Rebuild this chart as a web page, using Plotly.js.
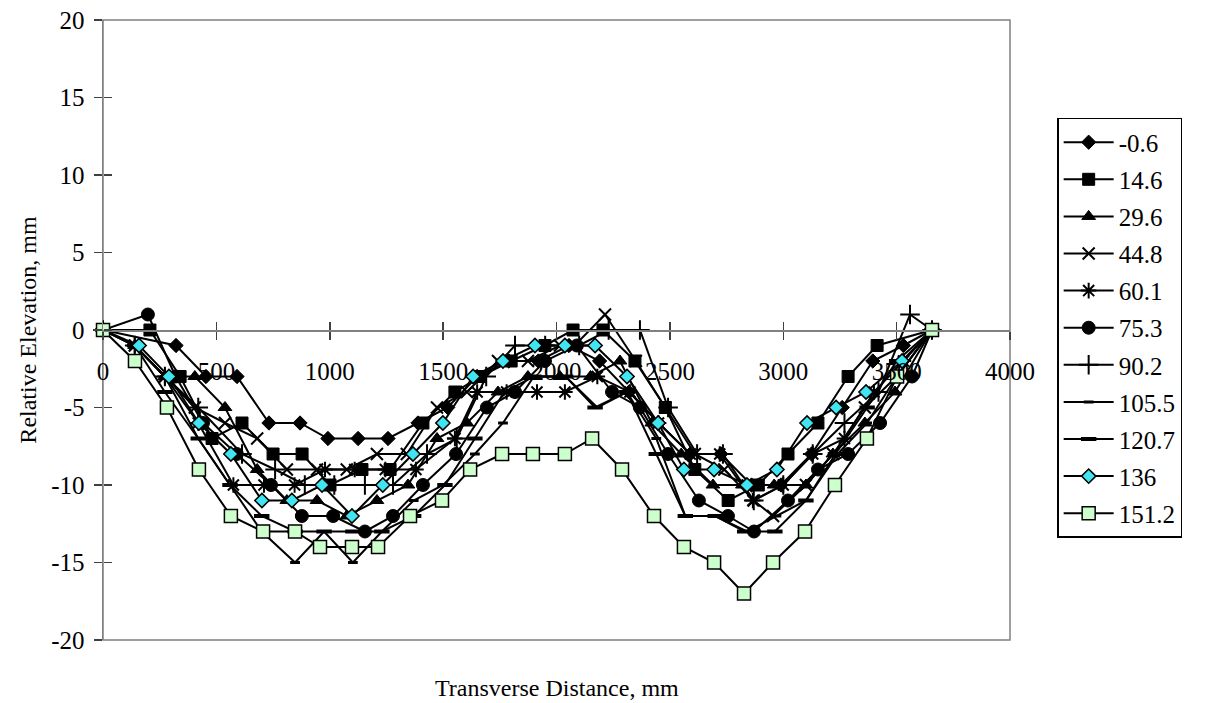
<!DOCTYPE html>
<html>
<head>
<meta charset="utf-8">
<script src="https://cdn.plot.ly/plotly-3.0.1.min.js"></script>
<style>html,body{margin:0;padding:0;background:#fff;}#chart{width:1208px;height:703px;}</style>
</head>
<body>
<div id="chart"></div>
<script>
// Series names (legend)
const seriesNames = ["-0.6", "14.6", "29.6", "44.8", "60.1", "75.3", "90.2", "105.5", "120.7", "136", "151.2"];

// Values (x: transverse distance mm, y: relative elevation mm)
const xS00 = [0, 322, 454, 591, 732, 869, 992, 1125, 1257, 1389, 1520, 1650, 1790, 1920, 2055, 2190, 2320, 2450, 2590, 2725, 2860, 2990, 3125, 3260, 3395, 3530, 3656];
const yS00 = [0, -1, -3, -3, -6, -6, -7, -7, -7, -6, -5, -3, -2, -2, -1, -2, -4, -6, -8, -8, -10, -10, -8, -5, -2, -1, 0];

const xS01 = [0, 207, 340, 481, 613, 750, 878, 1001, 1142, 1266, 1411, 1552, 1663, 1800, 1949, 2073, 2205, 2346, 2480, 2610, 2757, 2890, 3021, 3153, 3286, 3414, 3656];
const yS01 = [0, 0, -3, -7, -6, -8, -8, -10, -9, -9, -6, -4, -3, -2, -1, 0, 0, -2, -5, -9, -11, -10, -8, -6, -3, -1, 0];

const xS02 = [0, 140, 273, 405, 538, 680, 811, 944, 1075, 1208, 1345, 1473, 1605, 1742, 1874, 2015, 2150, 2280, 2420, 2550, 2690, 2820, 2960, 3100, 3219, 3360, 3493, 3656];
const yS02 = [0, -1, -3, -3, -5, -9, -11, -11, -12, -11, -10, -7, -6, -4, -3, -3, -3, -2, -6, -8, -10, -10, -10, -10, -8, -6, -4, 0];

const xS03 = [0, 140, 273, 405, 538, 680, 811, 944, 1075, 1208, 1340, 1473, 1605, 1742, 1874, 2015, 2080, 2214, 2350, 2480, 2610, 2740, 2870, 2955, 3100, 3220, 3360, 3500, 3656];
const yS03 = [0, -1, -3, -5, -6, -7, -9, -9, -9, -8, -8, -5, -4, -2, -2, -1, -1, 1, -2, -5, -8, -9, -11, -12, -10, -8, -5, -3, 0];

const xS04 = [0, 140, 273, 420, 575, 710, 845, 979, 1110, 1245, 1380, 1552, 1650, 1780, 1914, 2037, 2180, 2324, 2450, 2590, 2720, 2866, 3000, 3130, 3270, 3400, 3530, 3656];
const yS04 = [0, -1, -3, -6, -10, -10, -10, -9, -9, -9, -9, -7, -4, -4, -4, -4, -3, -4, -6, -8, -8, -11, -10, -8, -7, -4, -2, 0];

const xS05 = [0, 198, 320, 441, 590, 741, 877, 1015, 1155, 1279, 1411, 1557, 1693, 1817, 1949, 2090, 2245, 2368, 2492, 2628, 2756, 2871, 3021, 3153, 3286, 3427, 3568, 3656];
const yS05 = [0, 1, -3, -6, -8, -10, -12, -12, -13, -12, -10, -8, -5, -4, -2, -1, -4, -5, -8, -11, -12, -13, -11, -9, -8, -6, -3, 0];

const xS06 = [0, 140, 273, 420, 613, 759, 890, 1020, 1155, 1279, 1429, 1560, 1690, 1817, 1950, 2100, 2230, 2368, 2492, 2620, 2734, 2870, 3000, 3130, 3270, 3420, 3559, 3656];
const yS06 = [0, -1, -3, -5, -8, -9, -10, -10, -10, -10, -8, -7, -3, -1, -1, -1, 0, 0, -5, -8, -8, -11, -10, -8, -6, -4, 1, 0];

const xS07 = [0, 140, 273, 420, 560, 700, 847, 975, 1102, 1230, 1370, 1500, 1640, 1764, 1900, 2040, 2180, 2310, 2440, 2568, 2700, 2840, 2970, 3100, 3240, 3370, 3500, 3656];
const yS07 = [0, -1, -3, -7, -10, -13, -15, -13, -15, -13, -11, -10, -8, -6, -3, -3, -5, -4, -7, -12, -12, -13, -12, -11, -8, -6, -3, 0];

const xS08 = [0, 140, 273, 420, 560, 700, 847, 975, 1102, 1230, 1370, 1508, 1640, 1770, 1900, 2040, 2170, 2310, 2440, 2568, 2700, 2830, 2963, 3100, 3230, 3370, 3500, 3656];
const yS08 = [0, -1, -4, -7, -10, -12, -13, -13, -13, -13, -12, -10, -7, -4, -3, -3, -5, -4, -8, -12, -12, -13, -13, -11, -8, -5, -2, 0];

const xS09 = [0, 159, 291, 423, 564, 701, 833, 966, 1098, 1234, 1367, 1499, 1632, 1764, 1905, 2037, 2170, 2311, 2448, 2562, 2695, 2840, 2972, 3105, 3233, 3365, 3524, 3656];
const yS09 = [0, -1, -3, -6, -8, -11, -11, -10, -12, -10, -8, -6, -3, -2, -1, -1, -1, -3, -6, -9, -9, -10, -9, -6, -5, -4, -2, 0];

const xS10 = [0, 141, 282, 423, 564, 706, 847, 957, 1098, 1213, 1354, 1495, 1619, 1760, 1896, 2037, 2157, 2289, 2430, 2562, 2695, 2827, 2955, 3096, 3228, 3369, 3502, 3656];
const yS10 = [0, -2, -5, -9, -12, -13, -13, -14, -14, -14, -12, -11, -9, -8, -8, -8, -7, -9, -12, -14, -15, -17, -15, -13, -10, -7, -3, 0];

const xTickVals = [0, 500, 1000, 1500, 2000, 2500, 3000, 3500, 4000];
const xTickText = ["0", "500", "1000", "1500", "2000", "2500", "3000", "3500", "4000"];
const yTickVals = [-20, -15, -10, -5, 0, 5, 10, 15, 20];
const yTickText = ["-20", "-15", "-10", "-5", "0", "5", "10", "15", "20"];

const xTitle = "Transverse Distance, mm";
const yTitle = "Relative Elevation, mm";

const xs = [xS00, xS01, xS02, xS03, xS04, xS05, xS06, xS07, xS08, xS09, xS10];
const ys = [yS00, yS01, yS02, yS03, yS04, yS05, yS06, yS07, yS08, yS09, yS10];

const markerStyles = [
  {symbol: "diamond", size: 11, color: "#000", line: {color: "#000", width: 1}},
  {symbol: "square", size: 12, color: "#000", line: {color: "#000", width: 1}},
  {symbol: "triangle-up", size: 12, color: "#000", line: {color: "#000", width: 1}},
  {symbol: "x-thin-open", size: 12, color: "#000", line: {color: "#000", width: 2}},
  {symbol: "asterisk-open", size: 13, color: "#000", line: {color: "#000", width: 2}},
  {symbol: "circle", size: 13, color: "#000", line: {color: "#000", width: 1}},
  {symbol: "cross-thin-open", size: 14, color: "#000", line: {color: "#000", width: 2}},
  {symbol: "line-ew-open", size: 7, color: "#000", line: {color: "#000", width: 3}},
  {symbol: "line-ew-open", size: 11, color: "#000", line: {color: "#000", width: 4}},
  {symbol: "diamond", size: 11, color: "#3FE6F2", line: {color: "#000", width: 1.5}},
  {symbol: "square", size: 13, color: "#CCFFCC", line: {color: "#000", width: 1.5}}
];

const FONT = "'Liberation Serif', 'Times New Roman', serif";

const traces = seriesNames.map((nm, i) => ({
  type: "scatter",
  mode: "lines+markers",
  name: nm,
  legendgroup: "g" + i,
  x: xs[i],
  y: ys[i],
  line: {color: "#000", width: 2},
  marker: markerStyles[i],
  cliponaxis: false
}));

// helper axis pair (only for crossing tick marks)
traces.push({type: "scatter", x: [], y: [], xaxis: "x2", yaxis: "y2", showlegend: false, hoverinfo: "skip"});

const layout = {
  width: 1208,
  height: 703,
  margin: {l: 103, r: 198, t: 20, b: 63, pad: 0},
  paper_bgcolor: "#fff",
  plot_bgcolor: "#fff",
  font: {family: FONT, color: "#000", size: 24},
  showlegend: true,
  xaxis: {
    range: [0, 4000],
    tickvals: xTickVals,
    ticktext: xTickText,
    anchor: "free",
    position: 0.5,
    showgrid: false,
    zeroline: false,
    showline: true,
    linecolor: "#808080",
    linewidth: 1.5,
    ticks: "outside",
    ticklen: 8,
    tickwidth: 1.5,
    tickcolor: "#404040",
    ticklabelstandoff: 10,
    tickfont: {family: FONT, size: 25, color: "#000"}
  },
  yaxis: {
    range: [-20, 20],
    tickvals: yTickVals,
    ticktext: yTickText,
    showgrid: false,
    zeroline: false,
    showline: true,
    linecolor: "#808080",
    linewidth: 1.5,
    ticks: "outside",
    ticklen: 8,
    tickwidth: 1.5,
    tickcolor: "#404040",
    ticklabelstandoff: 4,
    tickfont: {family: FONT, size: 25, color: "#000"},
    title: {text: yTitle, font: {family: FONT, size: 24, color: "#000"}, standoff: 8}
  },
  xaxis2: {
    range: [0, 4000],
    tickvals: xTickVals,
    overlaying: "x",
    anchor: "free",
    position: 0.5,
    showgrid: false,
    zeroline: false,
    showline: false,
    ticks: "inside",
    ticklen: 8,
    tickwidth: 1.5,
    tickcolor: "#404040",
    showticklabels: false
  },
  yaxis2: {
    range: [-20, 20],
    tickvals: yTickVals,
    overlaying: "y",
    anchor: "free",
    position: 0,
    showgrid: false,
    zeroline: false,
    showline: false,
    ticks: "inside",
    ticklen: 8,
    tickwidth: 1.5,
    tickcolor: "#404040",
    showticklabels: false
  },
  shapes: [
    {type: "rect", xref: "paper", yref: "paper", x0: 0, x1: 1, y0: 0, y1: 1, line: {color: "#808080", width: 1.5}, fillcolor: "rgba(0,0,0,0)", layer: "below"}
  ],
  annotations: [
    {text: xTitle, xref: "paper", yref: "paper", x: 0.5, y: -0.078, xanchor: "center", yanchor: "middle", showarrow: false, font: {family: FONT, size: 24, color: "#000"}}
  ],
  legend: {
    x: 1.052,
    y: 0.842,
    xanchor: "left",
    yanchor: "top",
    bgcolor: "#fff",
    bordercolor: "#000",
    borderwidth: 1.5,
    font: {family: FONT, size: 25, color: "#000"},
    tracegroupgap: 1.6,
    itemwidth: 50,
    entrywidth: 88
  }
};

Plotly.newPlot("chart", traces, layout, {displayModeBar: false, staticPlot: true});
</script>
</body>
</html>
